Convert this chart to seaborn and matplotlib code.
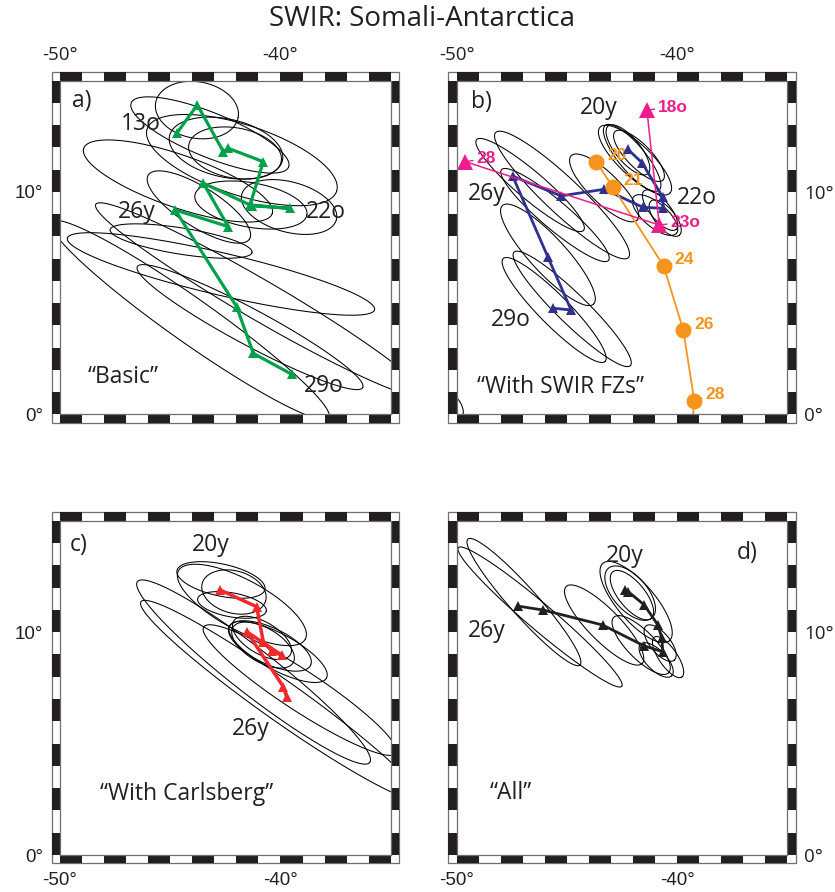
import numpy as np
import pandas as pd
import matplotlib
matplotlib.use("Agg")
import matplotlib.pyplot as plt
from matplotlib.patches import Rectangle
import seaborn as sns

sns.set_theme(style="white")
plt.rcParams['font.family'] = ['Open Sans', 'DejaVu Sans']

# ---------------- axes / ticks ----------------
LON_RANGE = [-50, -35]
LAT_RANGE = [0, 15]
x_ticks = [-50, -40]
x_tick_labels = ['-50°', '-40°']
y_ticks = [0, 10]
y_tick_labels = ['0°', '10°']
title = "SWIR: Somali-Antarctica"

# ---------------- panel a: "Basic" ----------------
a_track_lon = [-44.71, -43.77, -42.59, -42.37, -40.78, -41.38, -39.57, -41.31, -43.50, -42.37, -44.78, -41.99, -41.23, -39.49]
a_track_lat = [12.63, 13.91, 11.81, 11.96, 11.36, 9.41, 9.26, 9.38, 10.39, 8.44, 9.19, 4.84, 2.74, 1.80]
a_ell_lon = [-43.79, -43.20, -42.47, -42.06, -41.75, -44.65, -43.70, -41.34, -39.61, -44.51, -42.70, -41.38, -44.10, -40.93]
a_ell_lat = [13.68, 12.56, 11.97, 11.75, 11.43, 10.49, 9.32, 9.41, 9.32, 7.79, 6.31, 3.92, 4.24, 5.14]
a_ell_major = [1.90, 3.85, 2.62, 2.13, 4.52, 4.52, 2.71, 2.58, 2.22, 3.26, 7.15, 5.79, 7.69, 8.60]
a_ell_minor = [1.27, 1.00, 1.31, 1.13, 1.58, 1.18, 0.90, 1.00, 1.13, 0.59, 0.95, 0.81, 1.00, 0.90]
a_ell_az = [-10, -22, -12, -10, -18, -19, -32, -10, -15, -9, -13, -28, -35, -30]
a_labels = ["13o", "26y", "22o", "29o"]
a_label_lon = [-46.33, -46.51, -37.94, -38.03]
a_label_lat = [13.05, 9.10, 9.10, 1.27]

# ---------------- panel b: "With SWIR FZs" ----------------
b_track_lon = [-42.24, -41.59, -40.65, -40.63, -41.56, -43.30, -45.27, -47.46, -45.87, -44.81, -45.64]
b_track_lat = [11.92, 11.31, 9.76, 9.26, 9.31, 10.12, 9.82, 10.71, 7.09, 4.69, 4.77]
fz_mag_lon = [-49.61, -40.81, -41.37]
fz_mag_lat = [11.36, 8.51, 13.68]
fz_mag_labels = ["28", "23o", "18o"]
fz_org_lon = [-43.68, -42.92, -40.61, -39.72, -39.22, -39.35]
fz_org_lat = [11.36, 10.23, 6.67, 3.79, 0.61, -1.00]
fz_org_labels = ["20", "21", "24", "26", "28", ""]
b_ell_lon = [-41.91, -42.04, -41.73, -42.23, -40.77, -40.54, -41.00, -43.31, -45.22, -46.67, -45.86, -45.58, -44.76, -45.54, -50.05]
b_ell_lat = [11.43, 11.53, 11.62, 11.89, 9.18, 8.82, 8.96, 10.18, 9.86, 10.31, 7.17, 4.69, 4.74, 8.96, 0.40]
b_ell_major = [2.17, 1.90, 1.54, 1.40, 1.13, 1.00, 1.27, 2.08, 4.12, 3.17, 3.03, 3.27, 3.67, 3.17, 0.55]
b_ell_minor = [0.72, 0.60, 0.54, 0.55, 0.45, 0.45, 0.54, 0.68, 0.81, 0.63, 0.81, 0.68, 0.68, 0.63, 0.25]
b_ell_az = [-43, -50, -45, -50, -50, -50, -40, -44, -43, -40, -47, -45, -44, -40, -60]
b_labels = ["20y", "22o", "26y", "29o"]
b_label_lon = [-43.54, -39.10, -48.63, -47.54]
b_label_lat = [13.77, 9.74, 9.90, 4.24]

# ---------------- panel c: "With Carlsberg" ----------------
c_track_lon = [-42.74, -41.08, -40.78, -40.39, -39.95, -41.53, -39.87, -39.72]
c_track_lat = [11.89, 11.14, 9.57, 9.15, 8.97, 10.02, 7.55, 7.10]
c_ell_lon = [-42.70, -41.75, -42.11, -42.20, -41.22, -39.12, -40.02, -40.84, -40.79, -40.48, -40.11]
c_ell_lat = [12.34, 11.22, 11.80, 11.22, 8.21, 7.40, 6.95, 9.74, 9.42, 9.38, 9.11]
c_ell_major = [2.04, 3.26, 1.49, 1.58, 6.65, 5.20, 7.70, 1.49, 1.58, 2.04, 2.49]
c_ell_minor = [0.72, 1.13, 0.95, 0.54, 1.00, 0.90, 0.90, 0.72, 0.77, 0.81, 0.81]
c_ell_az = [-12, -28, -15, -10, -37.6, -33, -35, -30, -30, -25, -28]
c_labels = ["20y", "26y"]
c_label_lon = [-43.15, -41.34]
c_label_lat = [13.91, 5.65]

# ---------------- panel d: "All" ----------------
d_track_lon = [-47.23, -46.07, -43.38, -41.49, -40.65, -40.69, -40.87, -41.49, -42.21, -42.36]
d_track_lat = [11.17, 10.99, 10.32, 9.38, 9.12, 9.72, 10.32, 11.22, 11.81, 11.87]
d_ell_lon = [-46.95, -46.22, -43.31, -41.63, -41.86, -42.13, -42.05, -40.77, -40.41, -40.95]
d_ell_lat = [11.35, 10.68, 10.32, 9.42, 11.35, 11.75, 11.66, 9.51, 8.88, 8.75]
d_ell_major = [3.80, 4.84, 2.44, 1.76, 2.30, 1.49, 1.36, 1.00, 1.09, 1.00]
d_ell_minor = [0.63, 0.59, 0.72, 0.63, 0.85, 0.77, 0.59, 0.45, 0.41, 0.45]
d_ell_az = [-48, -40, -45, -45, -49, -48, -50, -50, -55, -45]
d_labels = ["20y", "26y"]
d_label_lon = [-42.36, -48.63]
d_label_lat = [13.41, 10.05]

panel_letters = ["a)", "b)", "c)", "d)"]
panel_names = ["\u201cBasic\u201d", "\u201cWith SWIR FZs\u201d", "\u201cWith Carlsberg\u201d", "\u201cAll\u201d"]

# ---------------- styles ----------------
FRAME_BLACK = "#231f20"
GREEN = "#00a14b"
NAVY = "#2e3192"
PINK = "#ec1e8c"
ORANGE = "#f7941d"
RED = "#ee2a2e"
TRACK_BLACK = "#231f20"
LABEL_FS = 16.5
TICK_FONT = ['Liberation Sans', 'DejaVu Sans']

W, H = 835, 892
fig = plt.figure(figsize=(W / 100, H / 100), dpi=100)


def px_rect(l, t, r, b):
    return [l / W, 1 - b / H, (r - l) / W, (b - t) / H]


ax_a = fig.add_axes(px_rect(60, 80.7, 390.7, 414.3))
ax_b = fig.add_axes(px_rect(456.7, 80.7, 787.3, 414.3))
ax_c = fig.add_axes(px_rect(60, 520.7, 390.7, 855))
ax_d = fig.add_axes(px_rect(456.7, 520.7, 787.3, 855))


def ellipse_frame(lons, lats, majors, minors, azs):
    t = np.linspace(0, 2 * np.pi, 241)
    rows = []
    for i, (lo, la, a, b, az) in enumerate(zip(lons, lats, majors, minors, azs)):
        th = np.deg2rad(az)
        x = lo + a * np.cos(t) * np.cos(th) - b * np.sin(t) * np.sin(th)
        y = la + a * np.cos(t) * np.sin(th) + b * np.sin(t) * np.cos(th)
        rows.append(pd.DataFrame({"lon": x, "lat": y, "id": i}))
    return pd.concat(rows, ignore_index=True)


def draw_ellipses(ax, lons, lats, majors, minors, azs):
    df = ellipse_frame(lons, lats, majors, minors, azs)
    sns.lineplot(data=df, x="lon", y="lat", units="id", estimator=None, sort=False,
                 color="black", lw=0.75, ax=ax, legend=False, zorder=1)


def draw_track(ax, lons, lats, color, lw, ms, marker="^", mew=0, zorder=3):
    df = pd.DataFrame({"lon": lons, "lat": lats})
    sns.lineplot(data=df, x="lon", y="lat", sort=False, estimator=None, color=color,
                 lw=lw, marker=marker, markersize=ms, markeredgewidth=mew,
                 markeredgecolor=color, ax=ax, legend=False, zorder=zorder)


def gmt_frame(ax, top, left):
    x0, x1 = LON_RANGE
    y0, y1 = LAT_RANGE
    ax.set_xlim(x0, x1)
    ax.set_ylim(y0, y1)
    w = 8.3 / 22.05
    h = 8.3 / 22.24
    ax.add_patch(Rectangle((x0 - w, y0 - h), (x1 - x0) + 2 * w, (y1 - y0) + 2 * h,
                           fill=False, ec="#6d6e71", lw=0.9, clip_on=False, zorder=6))
    for i in range(int(x1 - x0)):
        if i % 2 == 0:
            ax.add_patch(Rectangle((x0 + i, y1), 1, h, fc=FRAME_BLACK, ec="none", clip_on=False, zorder=6))
            ax.add_patch(Rectangle((x0 + i, y0 - h), 1, h, fc=FRAME_BLACK, ec="none", clip_on=False, zorder=6))
    for j in range(int(y1 - y0)):
        if j % 2 == 0:
            ax.add_patch(Rectangle((x0 - w, y0 + j), w, 1, fc=FRAME_BLACK, ec="none", clip_on=False, zorder=6))
            ax.add_patch(Rectangle((x1, y0 + j), w, 1, fc=FRAME_BLACK, ec="none", clip_on=False, zorder=6))
    for s in ax.spines.values():
        s.set_visible(True)
        s.set_color("#6d6e71")
        s.set_linewidth(0.9)
        s.set_zorder(7)
    ax.set_xticks(x_ticks)
    ax.set_xticklabels(x_tick_labels)
    ax.set_yticks(y_ticks)
    ax.set_yticklabels(y_tick_labels)
    ax.tick_params(length=0, labelsize=13.5, pad=12, labelcolor="#231f20")
    for lab in ax.get_xticklabels() + ax.get_yticklabels():
        lab.set_family(TICK_FONT)
    if top:
        ax.xaxis.tick_top()
    else:
        ax.xaxis.tick_bottom()
    if left:
        ax.yaxis.tick_left()
    else:
        ax.yaxis.tick_right()
    ax.set_xlabel("")
    ax.set_ylabel("")
    ax.grid(False)
    ax.set_facecolor("white")


def label_texts(ax, labels, lons, lats):
    for t, lo, la in zip(labels, lons, lats):
        ax.text(lo, la, t, fontsize=LABEL_FS, ha="center", va="center", color="#231f20", zorder=4)


# ---- panel a
draw_ellipses(ax_a, a_ell_lon, a_ell_lat, a_ell_major, a_ell_minor, a_ell_az)
draw_track(ax_a, a_track_lon, a_track_lat, GREEN, 2.3, 7)
label_texts(ax_a, a_labels, a_label_lon, a_label_lat)
gmt_frame(ax_a, top=True, left=True)

# ---- panel b
draw_ellipses(ax_b, b_ell_lon, b_ell_lat, b_ell_major, b_ell_minor, b_ell_az)
draw_track(ax_b, b_track_lon, b_track_lat, NAVY, 2.0, 6.5)
draw_track(ax_b, fz_org_lon, fz_org_lat, ORANGE, 1.3, 11.5, marker="o", zorder=4)
draw_track(ax_b, fz_mag_lon, fz_mag_lat, PINK, 1.1, 11, marker="^", zorder=4)
for t, lo, la in zip(fz_org_labels, fz_org_lon, fz_org_lat):
    if t:
        ax_b.annotate(t, xy=(lo, la), xytext=(11, 6), textcoords="offset pixels",
                      ha="left", va="center", fontsize=12.5, fontweight="bold", color=ORANGE,
                      family=TICK_FONT, zorder=2,
                      arrowprops=dict(arrowstyle="-", color=ORANGE, lw=1, shrinkA=0, shrinkB=1))
for t, lo, la in zip(fz_mag_labels, fz_mag_lon, fz_mag_lat):
    ax_b.annotate(t, xy=(lo, la), xytext=(11, 3), textcoords="offset pixels",
                  ha="left", va="center", fontsize=12.5, fontweight="bold", color=PINK,
                  family=TICK_FONT, zorder=2,
                  arrowprops=dict(arrowstyle="-", color=PINK, lw=1, shrinkA=0, shrinkB=1))
label_texts(ax_b, b_labels, b_label_lon, b_label_lat)
gmt_frame(ax_b, top=True, left=False)

# ---- panel c
draw_ellipses(ax_c, c_ell_lon, c_ell_lat, c_ell_major, c_ell_minor, c_ell_az)
draw_track(ax_c, c_track_lon, c_track_lat, RED, 2.5, 7)
label_texts(ax_c, c_labels, c_label_lon, c_label_lat)
gmt_frame(ax_c, top=False, left=True)

# ---- panel d
draw_ellipses(ax_d, d_ell_lon, d_ell_lat, d_ell_major, d_ell_minor, d_ell_az)
draw_track(ax_d, d_track_lon, d_track_lat, TRACK_BLACK, 2.0, 6.5)
label_texts(ax_d, d_labels, d_label_lon, d_label_lat)
gmt_frame(ax_d, top=False, left=False)

# panel letters and names (axes fraction)
letter_pos = [(0.0665, 0.939), (0.0735, 0.936), (0.057, 0.927), (0.878, 0.903)]
name_pos = [(0.19, 0.112), (0.315, 0.082), (0.384, 0.182), (0.165, 0.185)]
for ax, lt, lp, nm, npos in zip([ax_a, ax_b, ax_c, ax_d], panel_letters, letter_pos, panel_names, name_pos):
    ax.text(lp[0], lp[1], lt, transform=ax.transAxes, fontsize=LABEL_FS, ha="center", va="center",
            color="#231f20", zorder=4)
    ax.text(npos[0], npos[1], nm, transform=ax.transAxes, fontsize=LABEL_FS, ha="center", va="center",
            color="#231f20", zorder=4)

fig.text(422 / W, 1 - 19 / H, title, fontsize=20, ha="center", va="center", color="#231f20")

fig.savefig("out.png", dpi=100, facecolor="white")
